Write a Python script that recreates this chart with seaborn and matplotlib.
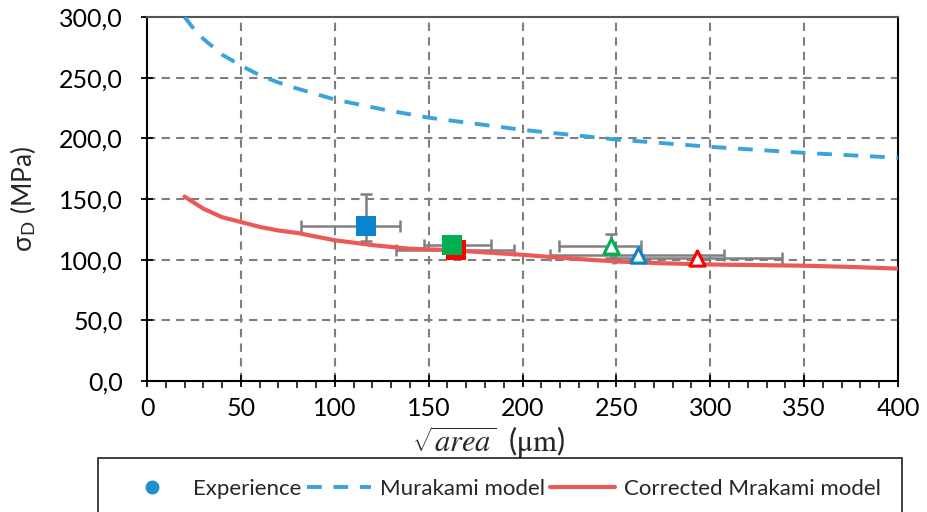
import matplotlib
matplotlib.use("Agg")
import matplotlib.pyplot as plt
from matplotlib.lines import Line2D
from matplotlib.ticker import MultipleLocator, FuncFormatter
import seaborn as sns
import pandas as pd

# Murakami model (dashed blue)
murakami_x = [20, 25, 30, 40, 50, 60, 70, 80, 100, 125, 150, 175, 200, 250, 300, 350, 400]
murakami_y = [300, 290, 282, 269, 260, 252, 246, 241, 232, 224, 217, 212, 207, 199, 193, 188, 184]

# Corrected Murakami model (solid red)
corrected_x = [20, 30, 40, 50, 60, 70, 80, 90, 100, 120, 140, 160, 180, 200, 225, 250, 275, 300, 325, 350, 375, 400]
corrected_y = [152, 142, 135, 131, 127, 124, 122, 119, 116, 112, 109, 108, 106, 104, 101, 98.5, 97, 96, 95.5, 95, 94, 92.6]

# experimental points
exp_x = [116.6, 164.6, 162.5, 247.0, 261.5, 293.0]
exp_y = [127.4, 107.7, 111.8, 111.0, 103.5, 101.0]
exp_xerr_lo = [34.6, 32, 15, 27.6, 47, 45]
exp_xerr_hi = [18.4, 31, 20.7, 16, 46, 45]
exp_yerr_lo = [12, 0, 0, 10, 0, 0]
exp_yerr_hi = [27, 0, 0, 10, 0, 0]
exp_color = ["#0A84CC", "#FF0000", "#00B050", "#00B050", "#0A84CC", "#FF0000"]
exp_marker = ["s", "s", "s", "^", "^", "^"]
exp_filled = [True, True, True, False, False, False]

sns.set_style("white")
plt.rcParams["font.family"] = ["Lato", "DejaVu Sans"]
plt.rcParams["mathtext.fontset"] = "custom"
plt.rcParams["mathtext.rm"] = "Lato"
plt.rcParams["mathtext.it"] = "STIXGeneral:italic"
plt.rcParams["mathtext.tt"] = "STIXGeneral"

fig = plt.figure(figsize=(9.27, 5.12), dpi=100)
ax = fig.add_axes([0.1586, 0.2559, 0.8101, 0.7109])

grid_col = "#7F7F7F"
for v in range(50, 400, 50):
    ax.axvline(v, color=grid_col, lw=1.5, ls=(0, (4, 3)), zorder=0)
for v in range(50, 300, 50):
    ax.axhline(v, color=grid_col, lw=1.5, ls=(0, (4, 3)), zorder=0)

mur = pd.DataFrame({"x": murakami_x, "y": murakami_y})
cor = pd.DataFrame({"x": corrected_x, "y": corrected_y})
sns.lineplot(data=mur, x="x", y="y", ax=ax, color="#3BA3DC", lw=2.8,
             linestyle=(0, (3.8, 3.0)), zorder=3)
sns.lineplot(data=cor, x="x", y="y", ax=ax, color="#EB5A57", lw=3.0, zorder=3)

ax.errorbar(exp_x, exp_y, xerr=[exp_xerr_lo, exp_xerr_hi],
            yerr=[exp_yerr_lo, exp_yerr_hi],
            fmt="none", ecolor="#808080", elinewidth=1.8, capsize=4,
            capthick=1.8, zorder=2)

for i in range(len(exp_x)):
    if exp_filled[i]:
        sns.scatterplot(x=[exp_x[i]], y=[exp_y[i]], ax=ax, marker=exp_marker[i],
                        s=210, color=exp_color[i], edgecolor="none", zorder=5)
    else:
        sns.scatterplot(x=[exp_x[i]], y=[exp_y[i]], ax=ax, marker=exp_marker[i],
                        s=120, facecolor="white", edgecolor=exp_color[i],
                        linewidth=2.2, zorder=5)

ax.set_xlim(0, 400)
ax.set_ylim(0, 300)
ax.xaxis.set_major_locator(MultipleLocator(50))
ax.xaxis.set_minor_locator(MultipleLocator(10))
ax.yaxis.set_major_locator(MultipleLocator(50))
ax.yaxis.set_major_formatter(FuncFormatter(lambda v, p: f"{v:.1f}".replace(".", ",")))
ax.tick_params(axis="both", which="major", direction="inout", length=9, width=1.3,
               labelsize=18, colors="black", bottom=True, left=True)
ax.tick_params(axis="x", which="major", pad=7)
ax.tick_params(axis="y", which="major", pad=13)
ax.tick_params(axis="x", which="minor", direction="out", length=5, width=1.3, bottom=True)
for s in ax.spines.values():
    s.set_color("black")
    s.set_linewidth(1.5)
ax.spines["top"].set_color("#555555")

ax.set_xlabel(r"$\sqrt{area}\ \ (\mathtt{\mu m})$", fontsize=22)
ax.xaxis.set_label_coords(0.455, -0.118)
ax.set_ylabel(r"σ$_{\mathrm{D}}$ (MPa)", fontsize=19)
ax.yaxis.set_label_coords(-0.145, 0.5)

handles = [
    Line2D([], [], color="#1E90D0", marker="o", ls="none", markersize=9),
    Line2D([], [], color="#3BA3DC", lw=2.8, ls=(0, (3.8, 3.0))),
    Line2D([], [], color="#EB5A57", lw=3.0),
]
labels = ["Experience", "Murakami model", "Corrected Mrakami model"]
leg = fig.legend(handles, labels, loc="upper center", ncol=3, fontsize=16,
                 bbox_to_anchor=(0.5394, 0.1055),
                 frameon=True, fancybox=False, edgecolor="black",
                 handlelength=2.9, borderpad=0.95, columnspacing=0.25,
                 handletextpad=0.4, borderaxespad=0)
leg.get_frame().set_linewidth(1.3)

fig.savefig("out.png", dpi=100)
